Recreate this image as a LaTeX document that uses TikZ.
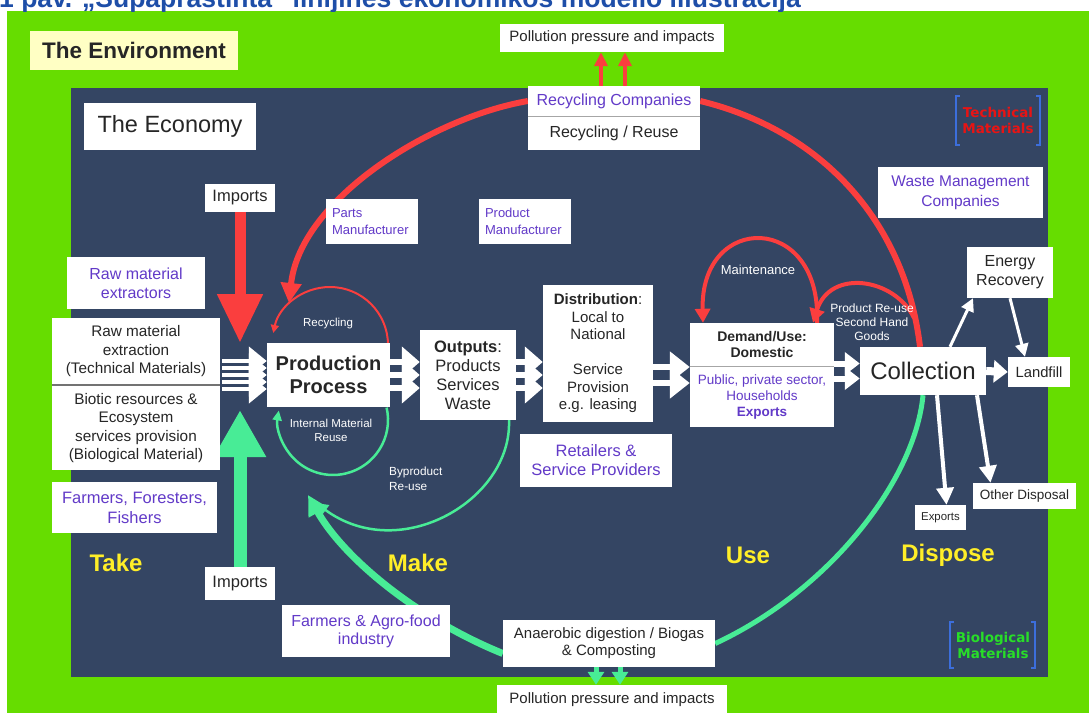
\documentclass[tikz,border=0pt]{standalone}
\usepackage{fontspec}
\setmainfont{Liberation Sans}
\newfontfamily\dvb{DejaVu Sans}
\usetikzlibrary{arrows.meta}
\newcommand\fsz[2]{\fontsize{#1}{#2}\selectfont}
\definecolor{envgreen}{RGB}{102,221,0}
\definecolor{navy}{RGB}{52,69,99}
\definecolor{purp}{RGB}{98,58,200}
\definecolor{redA}{RGB}{250,62,62}
\definecolor{mint}{RGB}{72,236,150}
\definecolor{yel}{RGB}{255,238,40}
\definecolor{ttl}{RGB}{30,78,168}
\definecolor{txt}{RGB}{38,38,38}
\definecolor{envy}{RGB}{255,255,196}
\definecolor{brk}{RGB}{60,110,220}
\definecolor{techred}{RGB}{232,20,20}
\definecolor{biogreen}{RGB}{40,222,40}
\pgfdeclarelayer{back}
\pgfdeclarelayer{conn}
\pgfsetlayers{back,conn,main}
\tikzset{
  wb/.style={fill=white, inner sep=0pt, align=center, text=txt},
  lbl/.style={text=white, inner sep=0pt, align=center},
  phase/.style={text=yel, inner sep=0pt, font=\bfseries\fsz{24}{28}},
  redthick/.style={draw=redA, line width=6pt},
  redmed/.style={draw=redA, line width=4pt},
  redthin/.style={draw=redA, line width=2pt},
  mintthick/.style={draw=mint, line width=7pt},
  mintmed/.style={draw=mint, line width=5pt},
  mintthin/.style={draw=mint, line width=2.5pt},
  bunA/.style={draw=white, line width=4.5pt, -{Triangle[width=28pt,length=18pt]}},
  bunB/.style={draw=white, line width=5.5pt, -{Triangle[width=30pt,length=18pt]}},
  bunC/.style={draw=white, line width=6pt, -{Triangle[width=30pt,length=20pt]}},
  bunD/.style={draw=white, line width=6pt, -{Triangle[width=22pt,length=15pt]}},
  bunE/.style={draw=white, line width=8pt, -{Triangle[width=22pt,length=14pt]}},
  warrow/.style={draw=white, line width=3pt, -{Triangle[width=13pt,length=13pt]}},
  warrowB/.style={draw=white, line width=4pt, -{Triangle[width=17pt,length=17pt]}},
  brace/.style={draw=brk, line width=1.3pt}
}
\begin{document}
\begin{tikzpicture}[x=1pt,y=-1pt]
\useasboundingbox (0,0) rectangle (1089,713);
\begin{pgfonlayer}{back}
\fill[white] (0,0) rectangle (1089,713);
\fill[envgreen] (7,11) rectangle (1089,713);
\fill[navy] (71,88) rectangle (1048,677);
\begin{scope}
\clip (0,0) rectangle (1089,11);
\node[anchor=base west, inner sep=0pt, text=ttl, font=\bfseries\fsz{26.5}{30}] (title) at (-1,7.5) {1 pav. „Supaprastinta“ linijinės ekonomikos modelio iliustracija};
\end{scope}
\end{pgfonlayer}

% ---------- boxes ----------
\node[wb, fill=envy, minimum width=208pt, minimum height=39pt, font=\bfseries\fsz{22.5}{27}] (env) at (134,50.5) {The Environment};
\node[wb, minimum width=224pt, minimum height=28pt, font=\fsz{15}{18}] (polltop) at (612,38) {Pollution pressure and impacts};
\node[wb, minimum width=172pt, minimum height=30pt, text=purp, font=\fsz{16}{19}] (reccomp) at (614,101) {Recycling Companies};
\node[wb, minimum width=172pt, minimum height=33pt, font=\fsz{16}{19}] (recreuse) at (614,133.5) {Recycling / Reuse};
\node[wb, minimum width=172pt, minimum height=47pt, font=\fsz{23.5}{28}] (econ) at (170,126.5) {The Economy};
\node[wb, minimum width=165pt, minimum height=51pt, text=purp, font=\fsz{15.5}{20}] (waste) at (960.5,192.5) {Waste Management\\Companies};
\node[wb, minimum width=70pt, minimum height=28pt, font=\fsz{16.5}{20}] (imp1) at (240,198) {Imports};
\node[wb, minimum width=92pt, minimum height=45pt, text=purp, align=left, text width=80pt, font=\fsz{13}{17}] (parts) at (372,221.5) {Parts\\Manufacturer};
\node[wb, minimum width=92pt, minimum height=45pt, text=purp, align=left, text width=80pt, font=\fsz{13}{17}] (product) at (525,221.5) {Product\\Manufacturer};
\node[wb, minimum width=138pt, minimum height=52pt, text=purp, font=\fsz{16}{19}] (rawex) at (136,283) {Raw material\\extractors};
\node[wb, minimum width=168pt, minimum height=67pt, font=\fsz{15.3}{18.5}] (rawext) at (136,351.5) {Raw material\\extraction\\(Technical Materials)};
\node[wb, minimum width=168pt, minimum height=84pt, font=\fsz{15.3}{18.3}] (biotic) at (136,428) {Biotic resources \&\\Ecosystem\\services provision\\(Biological Material)};
\node[wb, minimum width=165pt, minimum height=51pt, text=purp, font=\fsz{16.5}{20}] (farmers) at (134.5,507.5) {Farmers, Foresters,\\Fishers};
\node[wb, minimum width=123pt, minimum height=64pt, font=\bfseries\fsz{20}{23}] (prod) at (328.5,375) {Production\\Process};
\node[wb, minimum width=96pt, minimum height=90pt, font=\fsz{16.5}{19}] (outputs) at (468,375) {\textbf{Outputs}:\\Products\\Services\\Waste};
\node[wb, minimum width=110pt, minimum height=137pt, font=\fsz{15}{17.5}] (dist) at (598,353.5) {\textbf{Distribution}:\\Local to\\National\\[17.5pt]Service\\Provision\\e.g. leasing};
\node[wb, minimum width=152pt, minimum height=53pt, text=purp, font=\fsz{16.5}{19}] (retail) at (596,460.5) {Retailers \&\\Service Providers};
\node[wb, minimum width=144pt, minimum height=104pt] (demand) at (762,375) {};
\node[inner sep=0pt, align=center, text=txt, font=\bfseries\fsz{14}{15.5}] (demtop) at (762,344.5) {Demand/Use:\\Domestic};
\node[inner sep=0pt, align=center, text=purp, font=\fsz{13.5}{16}] (dembot) at (762,397) {Public, private sector,\\Households\\\textbf{Exports}};
\node[wb, minimum width=126pt, minimum height=48pt, font=\fsz{24}{28}] (collection) at (923,371) {Collection};
\node[wb, minimum width=62pt, minimum height=30pt, font=\fsz{14.8}{18}] (landfill) at (1039,372) {Landfill};
\node[wb, minimum width=86pt, minimum height=51pt, font=\fsz{16}{19}] (energy) at (1010,272.5) {Energy\\Recovery};
\node[wb, minimum width=51pt, minimum height=25pt, font=\fsz{11.4}{14}] (exports) at (940.5,517.5) {Exports};
\node[wb, minimum width=103pt, minimum height=26pt, font=\fsz{13.5}{16}] (other) at (1024.5,496) {Other Disposal};
\node[wb, minimum width=70pt, minimum height=33pt, font=\fsz{16.5}{20}] (imp2) at (240,583.5) {Imports};
\node[wb, minimum width=168pt, minimum height=52pt, text=purp, font=\fsz{16}{18}] (agro) at (366,631) {Farmers \& Agro-food\\industry};
\node[wb, minimum width=212pt, minimum height=47pt, font=\fsz{15}{17}] (anaer) at (609,643.5) {Anaerobic digestion / Biogas\\\& Composting};
\node[wb, minimum width=230pt, minimum height=30pt, font=\fsz{15}{18}] (pollbot) at (612,700) {Pollution pressure and impacts};

% dividers
\draw[gray!70, line width=1pt] (reccomp.south west) -- (reccomp.south east);
\draw[gray!70, line width=1pt] (demand.west |- 0,366) -- (demand.east |- 0,366);
\draw[black!55, line width=1.8pt] (rawext.south west) -- (rawext.south east);

% ---------- labels ----------
\node[lbl, font=\fsz{11.5}{14}] (lrec) at (328,324) {Recycling};
\node[lbl, font=\fsz{11.5}{14}] (lint) at (331,430) {Internal Material\\Reuse};
\node[lbl, align=left, anchor=west, font=\fsz{11.8}{15}] (lbyp) at (389,478.5) {Byproduct\\Re-use};
\node[lbl, font=\fsz{13}{16}] (lmaint) at (758,270) {Maintenance};
\node[lbl, font=\fsz{12}{14}] (lpr) at (872,322) {Product Re-use\\Second Hand\\Goods};
\node[phase] (take) at (116,563) {Take};
\node[phase] (make) at (418,563) {Make};
\node[phase] (use) at (748,555) {Use};
\node[phase] (dispose) at (948,555) {Dispose};

% brackets
\node[text=techred, inner sep=0pt, align=center, font=\dvb\bfseries\fsz{13.5}{16}] (tech) at (998,120) {Technical\\Materials};
\draw[brace] (960,96) -- (956,96) -- (956,145) -- (960,145);
\draw[brace] (1036,96) -- (1040,96) -- (1040,145) -- (1036,145);
\node[text=biogreen, inner sep=0pt, align=center, font=\dvb\bfseries\fsz{13.5}{16}] (bio) at (993,645) {Biological\\Materials};
\draw[brace] (954,622) -- (950,622) -- (950,668) -- (954,668);
\draw[brace] (1031,622) -- (1035,622) -- (1035,668) -- (1031,668);

% ---------- connectors ----------
\begin{pgfonlayer}{conn}
\coordinate (rct) at (289,303);
\coordinate (rcs) at (388,345);
\coordinate (gis) at (386.6,407.6);
\coordinate (bpend) at (316,503);
\coordinate (agend) at (308,495);
\coordinate (pr) at (914,318);
\path (rawext.east |- prod.west) ++(2,0) coordinate (lb);
\path (dist.west |- outputs.east) coordinate (dw);
\path (dist.east |- demand.west) coordinate (de);
\path (demand.east |- collection.west) coordinate (dme);

\foreach \dy in {-14,-7,0,7,14} \draw[bunA] ([yshift=\dy pt]lb) -- ([yshift=\dy pt]prod.west);
\foreach \dy in {-13,0,13} \draw[bunB] ([yshift=\dy pt]prod.east) -- ([yshift=\dy pt]outputs.west);
\foreach \dy in {-13,0,13} \draw[bunB] ([yshift=\dy pt]outputs.east) -- ([yshift=\dy pt]dw);
\foreach \dy in {-8,8} \draw[bunC] ([yshift=\dy pt]de) -- ([yshift=\dy pt]demand.west);
\foreach \dy in {-7.5,7.5} \draw[bunD] ([yshift=\dy pt]dme) -- ([yshift=\dy pt]collection.west);
\draw[bunE] (collection.east) -- (landfill.west);

% imports
\draw[draw=redA, line width=11pt, -{Triangle[width=43pt,length=49pt]}] (imp1.south) -- (imp1.south |- 0,343);
\draw[draw=mint, line width=13pt, -{Triangle[width=49pt,length=47pt]}] (imp2.north) -- (imp2.north |- 0,410);

% pollution arrows
\draw[draw=redA, line width=4pt, -{Triangle[width=13pt,length=14pt]}] ([xshift=-13pt]reccomp.north) -- ([xshift=-11pt]polltop.south);
\draw[draw=redA, line width=4pt, -{Triangle[width=13pt,length=14pt]}] ([xshift=11pt]reccomp.north) -- ([xshift=13pt]polltop.south);
\draw[draw=mint, line width=5pt, -{Triangle[width=16pt,length=13pt]}] ([xshift=-13pt]anaer.south) -- ([xshift=-16pt]pollbot.north);
\draw[draw=mint, line width=5pt, -{Triangle[width=16pt,length=13pt]}] ([xshift=11pt]anaer.south) -- ([xshift=8pt]pollbot.north);

% red loops
\draw[redthick, -{Triangle[width=20pt,length=20pt]}] (reccomp.west) .. controls (430,118) and (300,200) .. (rct);
\draw[redthick] ([xshift=-3pt]collection.north) .. controls (905,220) and (820,130) .. (reccomp.east);
\draw[redmed, -{Triangle[width=15pt,length=14pt]}] (pr) .. controls (895,278) and (830,268) .. ([xshift=51pt]demand.north);
\draw[redmed, -{Triangle[width=15pt,length=14pt]}] ([xshift=55pt]demand.north) .. controls (822,212) and (700,212) .. ([xshift=-59pt]demand.north);
\draw[redthin, -{Triangle[width=8pt,length=8pt]}] (rcs) arc[start angle=0, end angle=-168, radius=58];

% green loops
\draw[mintthin, -{Triangle[width=9pt,length=10pt]}] (gis) arc[start angle=-13, end angle=190, radius=55];
\draw[mintthin, -{Triangle[width=12pt,length=12pt]}] ([xshift=41pt]outputs.south) .. controls (512,500) and (400,565) .. (bpend);
\draw[mintthick, -{Triangle[width=20pt,length=20pt]}] ([yshift=-10pt]anaer.west) .. controls (420,620) and (345,560) .. (agend);
\draw[mintmed] (anaer.east) .. controls (830,590) and (915,480) .. (collection.south);

% disposal arrows
\draw[warrow] ([xshift=27pt]collection.north) -- ([xshift=-37pt]energy.south);
\draw[warrow] (energy.south) -- ([xshift=-14pt]landfill.north);
\draw[warrowB] ([xshift=14pt]collection.south) -- ([xshift=6pt]exports.north);
\draw[warrowB] ([xshift=54pt]collection.south) -- ([xshift=-34pt]other.north);
\end{pgfonlayer}
\end{tikzpicture}
\end{document}
